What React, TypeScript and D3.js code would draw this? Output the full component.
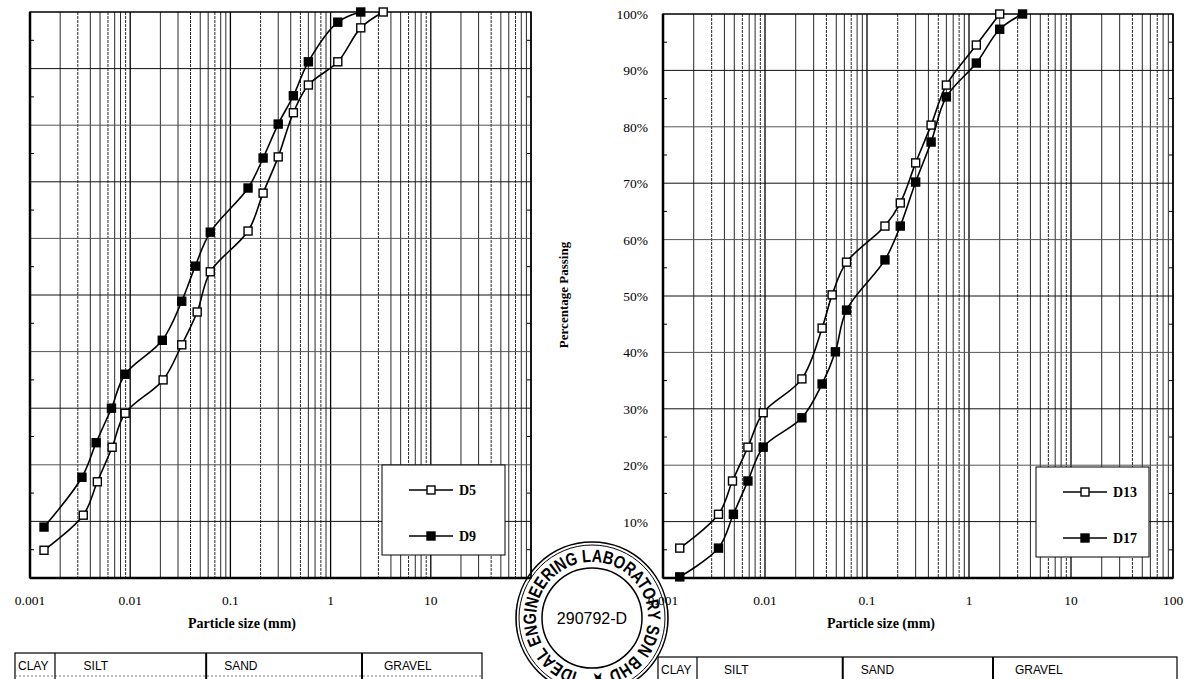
import * as d3 from 'd3';

// particle size (mm) / percentage passing
const d5Size = [3.35, 2, 1.18, 0.6, 0.425, 0.3, 0.212, 0.15, 0.063, 0.0466, 0.0327, 0.0213, 0.0089, 0.0066, 0.0047, 0.0034, 0.00138];
const d5Pass = [100, 97.2, 91.2, 87.1, 82.2, 74.4, 68.0, 61.3, 54.1, 47.0, 41.2, 35.0, 29.1, 23.1, 17.0, 11.1, 4.9];

const d9Size = [2, 1.18, 0.6, 0.425, 0.3, 0.212, 0.15, 0.063, 0.0446, 0.0327, 0.0209, 0.0089, 0.0065, 0.00457, 0.0033, 0.00138];
const d9Pass = [100, 98.2, 91.2, 85.2, 80.2, 74.2, 68.9, 61.1, 55.1, 48.9, 42.0, 36.0, 30.0, 23.9, 17.8, 9.0];

const d13Size = [2, 1.18, 0.6, 0.425, 0.3, 0.212, 0.15, 0.063, 0.0455, 0.0363, 0.023, 0.0096, 0.0068, 0.0048, 0.0035, 0.00146];
const d13Pass = [100, 94.5, 87.4, 80.3, 73.6, 66.5, 62.4, 56.0, 50.2, 44.3, 35.3, 29.3, 23.2, 17.2, 11.3, 5.3];

const d17Size = [3.35, 2, 1.18, 0.6, 0.425, 0.3, 0.212, 0.15, 0.063, 0.049, 0.0363, 0.023, 0.0096, 0.0068, 0.0049, 0.0035, 0.00146];
const d17Pass = [100, 97.3, 91.3, 85.3, 77.3, 70.2, 62.4, 56.4, 47.5, 40.1, 34.4, 28.4, 23.2, 17.2, 11.3, 5.3, 0.2];

const xTicks = [0.001, 0.01, 0.1, 1, 10, 100];
const leftTickLabels = ['0.001', '0.01', '0.1', '1', '10'];
const rightTickLabels = ['0.001', '0.01', '0.1', '1', '10', '100'];
const yTicks = [10, 20, 30, 40, 50, 60, 70, 80, 90, 100];
const yLabels = ['10%', '20%', '30%', '40%', '50%', '60%', '70%', '80%', '90%', '100%'];

// soil classification strip under each chart
const soilClasses = ['CLAY', 'SILT', 'SAND', 'GRAVEL'];
const classLimits = [0.002, 0.06, 2];

const serif = '"Liberation Serif", "DejaVu Serif", serif';
const sans = '"Liberation Sans", Arial, sans-serif';

type Series = { name: string; size: number[]; pass: number[]; filled: boolean };
type Box = { left: number; top: number; right: number; bottom: number };
type Strip = { x0: number; x1: number; y: number; first: number; last: number };

function Marker({ cx, cy, filled }: { cx: number; cy: number; filled: boolean }) {
    const s = 8;
    return (
        <rect
            x={cx - s / 2}
            y={cy - s / 2}
            width={s}
            height={s}
            fill={filled ? '#000' : '#fff'}
            stroke="#000"
            strokeWidth={1.4}
        />
    );
}

function Panel({
    box,
    series,
    tickLabels,
    showY,
    legend,
    strip,
    titleX,
}: {
    box: Box;
    series: Series[];
    tickLabels: string[];
    showY: boolean;
    legend: { x: number; y: number; w: number; h: number };
    strip: Strip;
    titleX: number;
}) {
    const x = d3.scaleLog().domain([0.001, 100]).range([box.left, box.right]);
    const y = d3.scaleLinear().domain([0, 100]).range([box.bottom, box.top]);
    const minor = d3.range(-3, 2).flatMap((e) => d3.range(2, 10).map((m) => m * Math.pow(10, e)));
    const line = d3
        .line<[number, number]>()
        .x((d) => x(d[0]))
        .y((d) => y(d[1]))
        .curve(d3.curveCatmullRom.alpha(0.5));

    // the printed strip is not quite on the chart's own scale
    const sx = d3
        .scaleLog()
        .domain([classLimits[0], classLimits[classLimits.length - 1]])
        .range([strip.first, strip.last]);
    const dividers = classLimits.map((v) => sx(v));
    const labelX = [strip.x0 + 3, dividers[0] + 0.27 * (dividers[1] - dividers[0]), dividers[1] + 18, dividers[2] + 22];

    return (
        <g>
            {/* vertical grid */}
            {minor.map((v, i) => (
                <line
                    key={'m' + i}
                    x1={x(v)}
                    x2={x(v)}
                    y1={box.top}
                    y2={box.bottom}
                    stroke="#111"
                    strokeWidth={0.9}
                    strokeDasharray={i % 3 === 1 ? '3 1' : undefined}
                />
            ))}
            {xTicks.map((v) => (
                <line key={'M' + v} x1={x(v)} x2={x(v)} y1={box.top} y2={box.bottom} stroke="#000" strokeWidth={1.3} />
            ))}
            {/* horizontal grid */}
            {yTicks.slice(0, 9).map((v, i) => (
                <line
                    key={'h' + v}
                    x1={box.left}
                    x2={box.right}
                    y1={y(v)}
                    y2={y(v)}
                    stroke={i % 2 === 1 ? '#555' : '#111'}
                    strokeWidth={1}
                />
            ))}
            {d3.range(5, 100, 10).map((v) => (
                <g key={'t' + v}>
                    <line x1={box.left} x2={box.left + 4} y1={y(v)} y2={y(v)} stroke="#000" />
                    <line x1={box.right - 4} x2={box.right} y1={y(v)} y2={y(v)} stroke="#000" />
                </g>
            ))}
            {/* frame */}
            <rect
                x={box.left}
                y={box.top}
                width={box.right - box.left}
                height={box.bottom - box.top}
                fill="none"
                stroke="#000"
                strokeWidth={1.5}
            />
            <line x1={box.left} x2={box.left} y1={box.top} y2={box.bottom} stroke="#000" strokeWidth={2.5} />
            <line x1={box.left} x2={box.right} y1={box.bottom} y2={box.bottom} stroke="#000" strokeWidth={2.5} />

            {/* legend */}
            <rect x={legend.x} y={legend.y} width={legend.w} height={legend.h} fill="#fff" stroke="#000" strokeWidth={1} />
            {series.map((s, i) => {
                const ly = legend.y + 25 + i * 46;
                const lx = legend.x + 27;
                return (
                    <g key={'lg' + s.name}>
                        <line x1={lx} x2={lx + 44} y1={ly} y2={ly} stroke="#000" strokeWidth={1.5} />
                        <Marker cx={lx + 22} cy={ly} filled={s.filled} />
                        <text x={lx + 50} y={ly + 5} fontFamily={serif} fontWeight="bold" fontSize={14}>
                            {s.name}
                        </text>
                    </g>
                );
            })}

            {/* series */}
            {series.map((s) => {
                const pts = s.size.map((v, i) => [v, s.pass[i]] as [number, number]);
                return (
                    <g key={s.name}>
                        <path d={line(pts) ?? ''} fill="none" stroke="#000" strokeWidth={1.6} />
                        {pts.map((p, i) => (
                            <Marker key={i} cx={x(p[0])} cy={y(p[1])} filled={s.filled} />
                        ))}
                    </g>
                );
            })}

            {/* axis labels */}
            {tickLabels.map((t, i) => (
                <text
                    key={'xl' + t}
                    x={x(xTicks[i])}
                    y={box.bottom + 27}
                    textAnchor="middle"
                    fontFamily={serif}
                    fontSize={13.5}
                >
                    {t}
                </text>
            ))}
            <text x={titleX} y={box.bottom + 50} textAnchor="middle" fontFamily={serif} fontWeight="bold" fontSize={14}>
                Particle size (mm)
            </text>
            {showY &&
                yTicks.map((v, i) => (
                    <text
                        key={'yl' + v}
                        x={box.left - 15}
                        y={y(v) + 5}
                        textAnchor="end"
                        fontFamily={serif}
                        fontSize={13.5}
                    >
                        {yLabels[i]}
                    </text>
                ))}

            {/* soil classification strip */}
            <rect x={strip.x0} y={strip.y} width={strip.x1 - strip.x0} height={40} fill="#fff" stroke="#000" strokeWidth={1.2} />
            <line x1={strip.x0} x2={strip.x1} y1={strip.y + 23} y2={strip.y + 23} stroke="#777" strokeDasharray="2 2" />
            {dividers.map((lx, i) => (
                <line key={'lim' + i} x1={lx} x2={lx} y1={strip.y} y2={strip.y + 40} stroke="#000" strokeWidth={i === 0 ? 1.2 : 2} />
            ))}
            {soilClasses.map((c, i) => (
                <text
                    key={c}
                    x={labelX[i]}
                    y={strip.y + 17}
                    textAnchor={i === 1 ? 'middle' : 'start'}
                    fontFamily={sans}
                    fontSize={12}
                >
                    {c}
                </text>
            ))}
        </g>
    );
}

function Stamp({ cx, cy }: { cx: number; cy: number }) {
    const r = 56;
    const a0 = (195 * Math.PI) / 180;
    const px = (a: number) => cx + r * Math.sin(a);
    const py = (a: number) => cy - r * Math.cos(a);
    const d = `M${px(a0)},${py(a0)} A${r},${r} 0 1 1 ${px(a0 + Math.PI)},${py(a0 + Math.PI)} A${r},${r} 0 1 1 ${px(a0)},${py(a0)}`;
    const arc = (2 * Math.PI * r * 345) / 360;
    return (
        <g>
            <defs>
                <path id="stampRing" d={d} />
            </defs>
            <circle cx={cx} cy={cy} r={76} fill="none" stroke="#000" strokeWidth={1.6} />
            <circle cx={cx} cy={cy} r={73} fill="none" stroke="#000" strokeWidth={1} />
            <circle cx={cx} cy={cy} r={50} fill="none" stroke="#000" strokeWidth={1.5} />
            <text fontFamily={sans} fontWeight="bold" fontSize={18} fill="#000">
                <textPath href="#stampRing" textLength={arc} lengthAdjust="spacingAndGlyphs">
                    IDEAL ENGINEERING LABORATORY SDN BHD ★
                </textPath>
            </text>
            <text x={cx} y={cy + 6} textAnchor="middle" fontFamily={sans} fontSize={16}>
                290792-D
            </text>
        </g>
    );
}

export default function App() {
    const leftSeries: Series[] = [
        { name: 'D5', size: d5Size, pass: d5Pass, filled: false },
        { name: 'D9', size: d9Size, pass: d9Pass, filled: true },
    ];
    const rightSeries: Series[] = [
        { name: 'D13', size: d13Size, pass: d13Pass, filled: false },
        { name: 'D17', size: d17Size, pass: d17Pass, filled: true },
    ];
    return (
        <svg width={1197} height={679} style={{ position: 'absolute', left: 0, top: 0, background: '#fff' }}>
            <rect width={1197} height={679} fill="#fff" />
            <Panel
                box={{ left: 30, top: 12, right: 531, bottom: 578 }}
                series={leftSeries}
                tickLabels={leftTickLabels}
                showY={false}
                legend={{ x: 382, y: 465, w: 123, h: 90 }}
                strip={{ x0: 15, x1: 482, y: 653, first: 55, last: 362 }}
                titleX={242}
            />
            <Panel
                box={{ left: 663, top: 14, right: 1173, bottom: 578 }}
                series={rightSeries}
                tickLabels={rightTickLabels}
                showY={true}
                legend={{ x: 1036, y: 467, w: 113, h: 90 }}
                strip={{ x0: 658, x1: 1177, y: 657, first: 697, last: 993 }}
                titleX={881}
            />
            <text
                transform="translate(568,295) rotate(-90)"
                textAnchor="middle"
                fontFamily={serif}
                fontWeight="bold"
                fontSize={13}
            >
                Percentage Passing
            </text>
            <Stamp cx={592} cy={618} />
        </svg>
    );
}
